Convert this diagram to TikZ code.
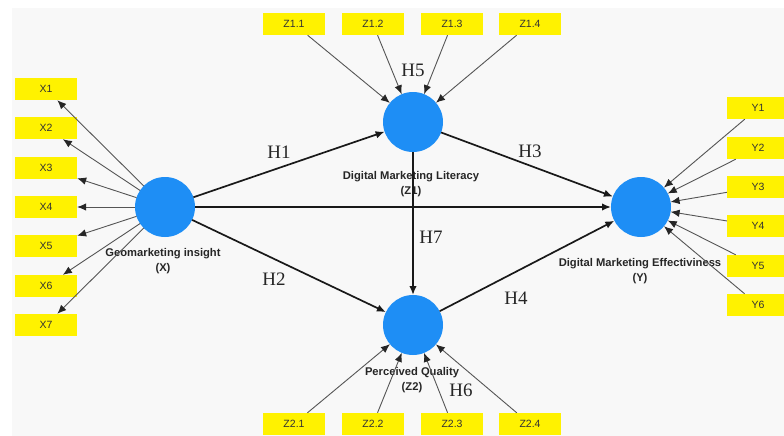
\documentclass[tikz,border=0pt]{standalone}
\usepackage{fontspec}
\setmainfont{Liberation Serif}
\newfontfamily\arialf{Liberation Sans}
\usetikzlibrary{arrows.meta}
\definecolor{bgc}{HTML}{F8F8F8}
\definecolor{lvblue}{HTML}{1E8EF5}
\definecolor{indgray}{HTML}{555555}
\tikzset{
  lv/.style={circle, fill=lvblue, draw=none, minimum size=60pt, inner sep=0pt, outer sep=0pt},
  ind/.style={rectangle, fill=yellow, draw=none, minimum width=62pt, minimum height=22pt, inner sep=0pt,
    font=\arialf\fontsize{10.5}{11}\selectfont, text=black!80},
  lvlabel/.style={font=\arialf\bfseries\fontsize{11.2}{15}\selectfont, text=black!85, align=center, inner sep=0pt},
  hlabel/.style={font=\fontsize{19}{20}\selectfont, text=black!85, inner sep=0pt},
  indarrow/.style={draw=indgray, line width=0.9pt, -{Latex[length=9pt,width=7.5pt,color=black!85]}},
  patharrow/.style={draw=black!90, line width=1.7pt, -{Latex[length=9pt,width=7.5pt]}}
}
\begin{document}
\begin{tikzpicture}[x=1pt,y=-1pt]
\useasboundingbox (0,0) rectangle (784,436);
\fill[white] (0,0) rectangle (784,436);
\fill[bgc] (12,8) rectangle (784,436);

% latent variables
\node[lv] (X) at (165,207) {};
\node[lv] (Z1) at (413,122) {};
\node[lv] (Y) at (641,207) {};
\node[lv] (Z2) at (413,325) {};

% latent labels
\node[lvlabel] (lX) at (163,261) {Geomarketing insight\\(X)};
\node[lvlabel] (lZ1) at (411,184) {Digital Marketing Literacy\\(Z1)};
\node[lvlabel] (lY) at (640,271) {Digital Marketing Effectiviness\\(Y)};
\node[lvlabel] (lZ2) at (412,380) {Perceived Quality\\(Z2)};

% X indicators
\node[ind] (x1) at (46,89) {X1};
\node[ind] (x2) at (46,128) {X2};
\node[ind] (x3) at (46,168) {X3};
\node[ind] (x4) at (46,207) {X4};
\node[ind] (x5) at (46,246) {X5};
\node[ind] (x6) at (46,286) {X6};
\node[ind] (x7) at (46,325) {X7};

% Y indicators
\node[ind] (y1) at (758,108) {Y1};
\node[ind] (y2) at (758,148) {Y2};
\node[ind] (y3) at (758,187) {Y3};
\node[ind] (y4) at (758,226) {Y4};
\node[ind] (y5) at (758,266) {Y5};
\node[ind] (y6) at (758,305) {Y6};

% Z1 indicators
\node[ind] (z11) at (294,24) {Z1.1};
\node[ind] (z12) at (373,24) {Z1.2};
\node[ind] (z13) at (452,24) {Z1.3};
\node[ind] (z14) at (530,24) {Z1.4};

% Z2 indicators
\node[ind] (z21) at (294,424) {Z2.1};
\node[ind] (z22) at (373,424) {Z2.2};
\node[ind] (z23) at (452,424) {Z2.3};
\node[ind] (z24) at (530,424) {Z2.4};

% indicator arrows
\foreach \i in {x1,x2,x3,x4,x5,x6,x7} \draw[indarrow] (X) -- (\i);
\foreach \i in {y1,y2,y3,y4,y5,y6} \draw[indarrow] (\i) -- (Y);
\foreach \i in {z11,z12,z13,z14} \draw[indarrow] (\i) -- (Z1);
\foreach \i in {z21,z22,z23,z24} \draw[indarrow] (\i) -- (Z2);

% structural paths
\draw[patharrow] (X) -- (Z1);
\draw[patharrow] (X) -- (Z2);
\draw[patharrow] (X) -- (Y);
\draw[patharrow] (Z1) -- (Y);
\draw[patharrow] (Z2) -- (Y);
\draw[patharrow] (Z1) -- (Z2);

% hypothesis labels
\node[hlabel] (h1) at (279,152) {H1};
\node[hlabel] (h2) at (274,279) {H2};
\node[hlabel] (h3) at (530,151) {H3};
\node[hlabel] (h4) at (516,298) {H4};
\node[hlabel] (h5) at (413,70) {H5};
\node[hlabel] (h6) at (461,390) {H6};
\node[hlabel] (h7) at (431,237) {H7};
\end{tikzpicture}
\end{document}
